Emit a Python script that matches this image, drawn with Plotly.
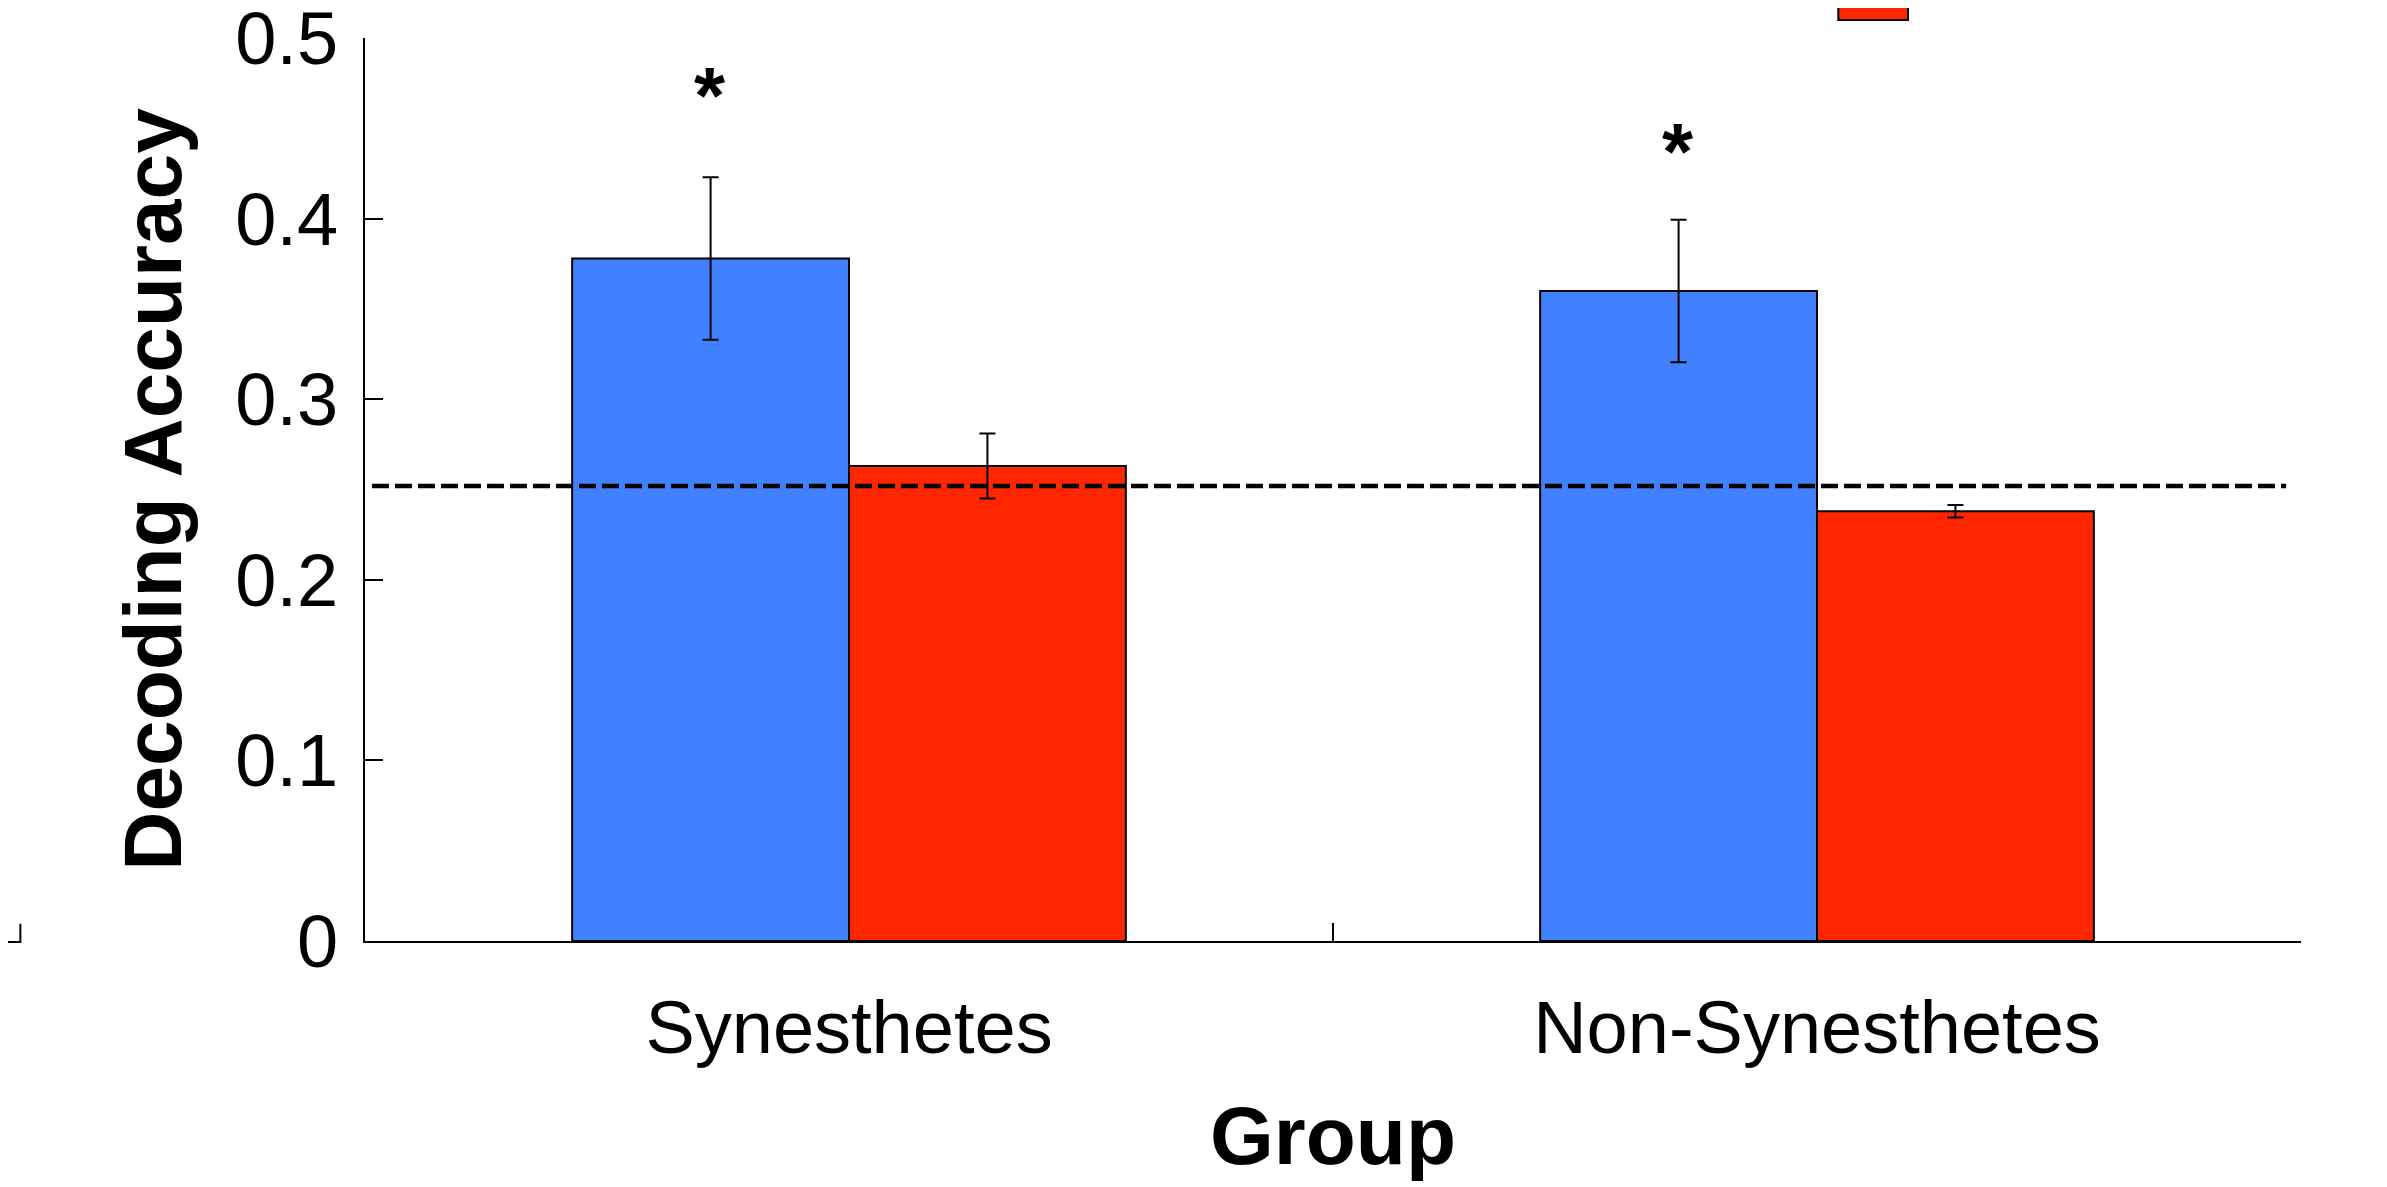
import plotly.graph_objects as go

# ---- data ----
groups = ["Synesthetes", "Non-Synesthetes"]
blue_vals = [0.378, 0.360]
blue_err = [0.045, 0.0395]
red_vals = [0.263, 0.238]
red_err = [0.018, 0.0035]
chance_level = 0.252
star_y = [0.468, 0.437]
y_ticks = [0, 0.1, 0.2, 0.3, 0.4, 0.5]
y_ticktext = ["0", "0.1", "0.2", "0.3", "0.4", "0.5"]

BLUE = "#4180FF"
RED = "#FF2600"
FONT = "Liberation Sans, Arial, Helvetica, sans-serif"

fig = go.Figure()
fig.add_trace(go.Bar(
    x=groups, y=blue_vals, name="Blue",
    marker=dict(color=BLUE, line=dict(color="black", width=2)),
    error_y=dict(type="data", array=blue_err, color="black", thickness=2, width=8),
))
fig.add_trace(go.Bar(
    x=groups, y=red_vals, name="Red",
    marker=dict(color=RED, line=dict(color="black", width=2)),
    error_y=dict(type="data", array=red_err, color="black", thickness=2, width=8),
))

# chance line
fig.add_shape(type="line", xref="paper", yref="y", x0=0.0036, x1=0.9923,
              y0=chance_level, y1=chance_level,
              line=dict(color="black", width=4.5, dash="17px,6px"))

# significance stars above blue bars
for g, sy in zip(groups, star_y):
    fig.add_annotation(x=g, y=sy, xref="x", yref="y", text="<b>*</b>",
                       showarrow=False, xshift=-139, yanchor="middle",
                       font=dict(size=80, color="black", family=FONT))

# cropped legend swatch remnant at top
fig.add_shape(type="rect", xref="paper", yref="paper", x0=0.761, x1=0.797,
              y0=1.020, y1=1.08, fillcolor=RED, line=dict(color="black", width=2))
# small corner mark bottom-left
fig.add_shape(type="path", xref="paper", yref="paper",
              path="M -0.19 -0.001 L -0.178 -0.001 L -0.178 0.019",
              line=dict(color="black", width=2))

fig.update_layout(
    width=2379, height=1179,
    margin=dict(l=357, r=86, t=30, b=246, autoexpand=False),
    paper_bgcolor="white", plot_bgcolor="white",
    barmode="group", bargap=0.428, bargroupgap=0,
    showlegend=False,
    font=dict(family=FONT, color="black"),
)
fig.update_xaxes(
    type="category", range=[-0.5, 1.5], automargin=False,
    showline=True, linecolor="black", linewidth=2,
    ticks="inside", tickson="boundaries", ticklen=18, tickwidth=2, tickcolor="black",
    tickfont=dict(size=74, family=FONT),
    ticklabelstandoff=21,
    showgrid=False, zeroline=False,
    title=dict(text="<b>Group</b>", font=dict(size=82, family=FONT), standoff=39),
)
fig.update_yaxes(
    range=[0, 0.5001], tickvals=y_ticks, ticktext=y_ticktext, automargin=False,
    showline=True, linecolor="black", linewidth=2,
    ticks="inside", ticklen=18, tickwidth=2, tickcolor="black",
    tickfont=dict(size=74, family=FONT),
    ticklabelstandoff=10, ticklabeloverflow="allow",
    showgrid=False, zeroline=False,
    title=dict(text="<b>Decoding Accuracy</b>", font=dict(size=82, family=FONT), standoff=27),
)

fig.write_html("out.html")
